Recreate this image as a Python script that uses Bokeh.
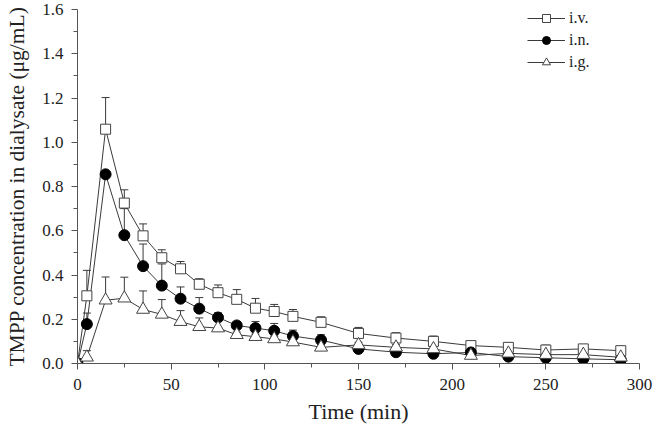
from bokeh.plotting import figure
from bokeh.models import FixedTicker, Legend, LegendItem, Range1d
from bokeh.embed import file_html
from bokeh.resources import INLINE

time = [0, 5, 15, 25, 35, 45, 55, 65, 75, 85, 95, 105, 115, 130, 150, 170, 190, 210, 230, 250, 270, 290]
iv = [0, 0.306, 1.059, 0.725, 0.577, 0.478, 0.428, 0.358, 0.32, 0.29, 0.25, 0.235, 0.213, 0.186,
      0.136, 0.115, 0.1, 0.081, 0.073, 0.061, 0.066, 0.058]
iv_err = [0, 0.115, 0.143, 0.06, 0.054, 0.036, 0.033, 0.025, 0.035, 0.044, 0.044, 0.032, 0.031, 0.025,
          0.027, 0.024, 0.024, 0.018, 0.021, 0.022, 0.02, 0.015]
inn = [0, 0.178, 0.855, 0.58, 0.44, 0.352, 0.293, 0.248, 0.208, 0.172, 0.16, 0.148, 0.124, 0.106,
       0.066, 0.051, 0.044, 0.05, 0.031, 0.026, 0.021, 0.017]
inn_err = [0, 0.05, 0.0, 0.12, 0.10, 0.098, 0.053, 0.05, 0.021, 0.017, 0.03, 0.033, 0.027, 0.024,
           0.01, 0.01, 0.01, 0.01, 0.008, 0.008, 0.008, 0.008]
ig = [0, 0.028, 0.286, 0.295, 0.244, 0.222, 0.189, 0.166, 0.16, 0.13, 0.121, 0.111, 0.097, 0.073,
      0.084, 0.073, 0.066, 0.036, 0.046, 0.04, 0.04, 0.028]
ig_err = [0, 0.03, 0.105, 0.095, 0.084, 0.067, 0.05, 0.04, 0.05, 0.012, 0.012, 0.012, 0.012, 0.012,
          0.012, 0.012, 0.012, 0.012, 0.012, 0.012, 0.012, 0.012]

x_ticks = [0, 50, 100, 150, 200, 250, 300]
x_minor = [25, 75, 125, 175, 225, 275]
y_ticks = [0.0, 0.2, 0.4, 0.6, 0.8, 1.0, 1.2, 1.4, 1.6]
y_minor = [0.1, 0.3, 0.5, 0.7, 0.9, 1.1, 1.3, 1.5]

SERIF = "Liberation Serif"
LINE = "#3a3a3a"
AX = "#555555"
TXT = "#222222"

p = figure(width=652, height=430, x_range=Range1d(0, 300), y_range=Range1d(0, 1.6),
           output_backend="svg", toolbar_location=None,
           min_border_left=77, min_border_top=9, min_border_right=13, min_border_bottom=67)
p.outline_line_color = None
p.xgrid.grid_line_color = None
p.ygrid.grid_line_color = None
p.background_fill_color = "white"
p.border_fill_color = "white"

p.xaxis.ticker = FixedTicker(ticks=x_ticks, minor_ticks=x_minor)
p.yaxis.ticker = FixedTicker(ticks=y_ticks, minor_ticks=y_minor)
p.yaxis.major_label_overrides = {v: f"{v:.1f}" for v in y_ticks}

for ax in (p.xaxis[0], p.yaxis[0]):
    ax.axis_line_color = AX
    ax.major_tick_line_color = AX
    ax.minor_tick_line_color = AX
    ax.major_tick_out = 6
    ax.major_tick_in = 0
    ax.minor_tick_out = 4
    ax.minor_tick_in = 0
    ax.major_label_text_font = SERIF
    ax.major_label_text_font_size = "17px"
    ax.major_label_text_color = TXT
    ax.axis_label_text_font = SERIF
    ax.axis_label_text_font_style = "normal"
    ax.axis_label_text_color = TXT

p.xaxis.axis_label = "Time (min)"
p.yaxis.axis_label = "TMPP concentration in dialysate (\u03bcg/mL)"
p.xaxis.axis_label_text_font_size = "22px"
p.yaxis.axis_label_text_font_size = "21.5px"
p.xaxis.major_label_standoff = 9
p.xaxis.axis_label_standoff = 6
p.yaxis.major_label_standoff = 8
p.yaxis.axis_label_standoff = 10

series = [
    ("i.v.", iv, iv_err, "square", 10, "white"),
    ("i.n.", inn, inn_err, "circle", 11, "black"),
    ("i.g.", ig, ig_err, "triangle", 13, "white"),
]

lines = []
for label, vals, errs, marker, size, fill in series:
    ln = p.line(time, vals, line_color=LINE, line_width=1)
    lines.append((label, ln, vals, errs, marker, size, fill))

for label, ln, vals, errs, marker, size, fill in lines:
    tops = [v + e for v, e in zip(vals, errs)]
    p.segment(x0=time, y0=vals, x1=time, y1=tops, line_color=LINE, line_width=1)
    p.scatter(time, tops, marker="dash", size=8, line_color=LINE, line_width=1)

items = []
for label, ln, vals, errs, marker, size, fill in lines:
    sc = p.scatter(time, vals, marker=marker, size=size, fill_color=fill,
                   line_color="#444444" if fill == "white" else "black", line_width=1)
    items.append(LegendItem(label=label, renderers=[ln, sc]))

legend = Legend(items=items, location=(450, 291), border_line_color=None,
                background_fill_alpha=0, padding=0, margin=0, spacing=2,
                glyph_width=38, glyph_height=20, label_height=20, label_standoff=4,
                label_text_font=SERIF, label_text_font_size="16px", label_text_color=TXT)
p.add_layout(legend)

open("out.html", "w").write(file_html(p, INLINE))
